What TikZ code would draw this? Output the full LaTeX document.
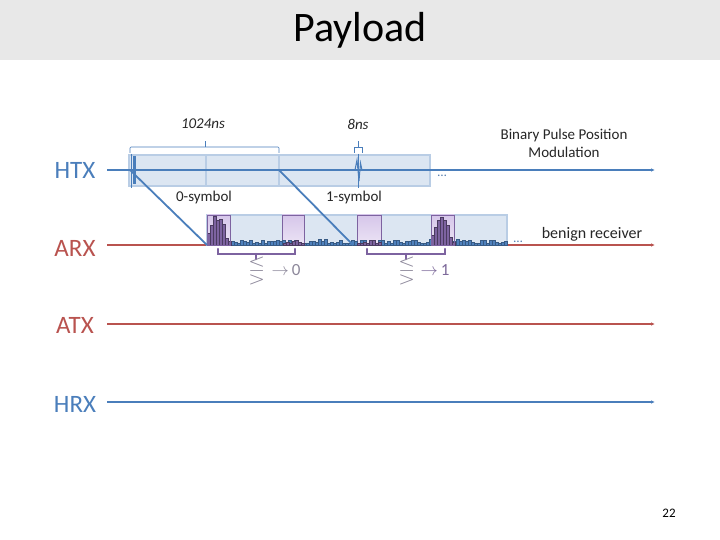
\documentclass[tikz,border=0pt]{standalone}
\usepackage{amsmath}
\usepackage{amssymb}
\usepackage{fontspec}
\setmainfont{Carlito}
\usetikzlibrary{arrows.meta}

\definecolor{laneblue}{HTML}{4A7EBB}
\definecolor{lanered}{HTML}{B9534F}
\definecolor{boxfill}{HTML}{DCE6F2}
\definecolor{boxedge}{HTML}{B9CDE5}
\definecolor{pulsepurple}{HTML}{7D63A0}
\definecolor{wintop}{HTML}{D6C6EA}
\definecolor{winbottom}{HTML}{ECE4F5}
\definecolor{titlegray}{HTML}{E8E8E8}
\definecolor{decgray}{HTML}{8C879A}
\definecolor{histblue}{HTML}{4F81BD}

\begin{document}
\begin{tikzpicture}[x=1pt, y=-1pt,
        lane/.style={line width=1.6pt, -{Latex[length=4pt,width=3.5pt]}},
        chan/.style={font=\fontsize{25}{28}\selectfont},
        lbl/.style={font=\fontsize{15}{18}\selectfont, text=black!85},
        slot/.style={fill=boxfill, draw=boxedge, line width=2.5pt},
        win/.style={top color=wintop, bottom color=winbottom, draw=pulsepurple, line width=0.8pt},
        bluebar/.style={fill=histblue, draw=histblue!70!black, line width=0.3pt},
        purplebar/.style={fill=pulsepurple, draw=pulsepurple!60!black, line width=0.4pt},
        brk/.style={draw=pulsepurple, line width=2.5pt, line cap=round},
        dec/.style={font=\fontsize{17}{20}\selectfont, text=decgray}
    ]
        \useasboundingbox[fill=white] (0,0) rectangle (720,540);

        % Title
        \fill[titlegray] (0,0) rectangle (720,60);
        \node[font=\fontsize{42}{48}\selectfont] (title) at (360,30) {Payload};

        % Channel labels
        \node[chan, text=laneblue] (htx) at (75,170) {HTX};
        \node[chan, text=lanered] (arx) at (75,248) {ARX};
        \node[chan, text=lanered] (atx) at (75,325) {ATX};
        \node[chan, text=laneblue] (hrx) at (75,404) {HRX};

        % Lane end points
        \coordinate (htxS) at (107,170);  \coordinate (htxE) at (655,170);
        \coordinate (arxS) at (107,245);  \coordinate (arxE) at (655,245);
        \coordinate (atxS) at (107,324);  \coordinate (atxE) at (655,324);
        \coordinate (hrxS) at (107,402);  \coordinate (hrxE) at (655,402);

        % HTX slots
        \draw[slot] (129,155) rectangle (430,186);
        \draw[boxedge, line width=1.5pt] (206,155) -- (206,186);
        \draw[boxedge, line width=1.5pt] (279,155) -- (279,186);
        \draw[lane, laneblue] (htxS) -- (htxE);
        \draw[laneblue, line width=0.8pt] (131,154) -- (131,188);
        \fill[laneblue] (132.5,156) rectangle (136,184);
        \draw[laneblue, line width=0.8pt] (358,154) -- (358,188);
        \draw[laneblue, line width=1pt] (355,170) -- (357,160) -- (359,181) -- (360.5,163) -- (362,170);
        \node[text=laneblue!80!gray, font=\fontsize{13}{15}\selectfont, anchor=base] (htxdots) at (442,177) {\dots};

        % Period brackets
        \draw[laneblue, line width=0.7pt, rounded corners=1pt] (130,153) -- (130,147) -- (279,147) -- (279,153);
        \draw[laneblue, line width=0.7pt] (205,147) -- (205,141);
        \draw[laneblue, line width=0.7pt] (354,153) -- (354,147) -- (362,147) -- (362,153);
        \draw[laneblue, line width=0.7pt] (358,147) -- (358,141);
        \node[lbl, font=\fontsize{15}{18}\selectfont\itshape] (period) at (203,124) {1024ns};
        \node[lbl, font=\fontsize{15}{18}\selectfont\itshape] (pulsew) at (358,124) {8ns};
        \node[lbl, align=center] (bppm) at (564,143) {Binary Pulse Position\\Modulation};
        \node[lbl] (sym0) at (204,198) {0-symbol};
        \node[lbl] (sym1) at (354,198) {1-symbol};

        % ARX lane and received slots
        \draw[lane, lanered] (arxS) -- (arxE);
        \draw[slot] (207,215) rectangle (507,245);
        \draw[win] (207,215) rectangle (230,245);
        \draw[win] (282,215) rectangle (304,245);
        \draw[win] (357,215) rectangle (381,245);
        \draw[win] (431,215) rectangle (454,245);

        % Histogram
        \pgfmathsetseed{17}
        \foreach \x in {207,210,...,504}{
            \pgfmathsetmacro\h{1.5+4*rnd}
            \draw[bluebar] (\x,245) rectangle ++(3,-\h);
        }
        \foreach \h [count=\i from 0] in {12,20,29,25,26,21,7,4}
            \draw[purplebar] (207+3*\i,245) rectangle ++(3,-\h);
        \foreach \h [count=\i from 0] in {2,3,2,4,5,3,2}
            \draw[purplebar] (283+3*\i,245) rectangle ++(3,-\h);
        \foreach \h [count=\i from 0] in {2,2,3,2,5,5,2,3}
            \draw[purplebar] (357+3*\i,245) rectangle ++(3,-\h);
        \foreach \h [count=\i from 0] in {10,18,25,28,25,20,8,3}
            \draw[purplebar] (431+3*\i,245) rectangle ++(3,-\h);
        \draw[pulsepurple, line width=0.8pt] (207,215) rectangle (230,245);
        \draw[pulsepurple, line width=0.8pt] (431,215) rectangle (454,245);
        \node[text=laneblue!80!gray, font=\fontsize{13}{15}\selectfont, anchor=base] (arxdots) at (518,242) {\dots};
        \node[font=\fontsize{16}{19}\selectfont, text=black!85] (benign) at (592,234) {benign receiver};

        % Symbol mapping
        \coordinate (sym0from) at (130,170);  \coordinate (sym0to) at (207,245);
        \coordinate (sym1from) at (279,170);  \coordinate (sym1to) at (353,245);
        \draw[laneblue, line width=1.8pt] (sym0from) -- (sym0to);
        \draw[laneblue, line width=1.8pt] (sym1from) -- (sym1to);

        % Decision brackets
        \draw[brk] (218,249) -- (218,254) -- (295,254) -- (295,249);
        \draw[brk] (256,254) -- (256,259);
        \draw[brk] (367,249) -- (367,254) -- (445,254) -- (445,249);
        \draw[brk] (406,254) -- (406,259);
        \node[dec, font=\fontsize{22}{24}\selectfont] (cmp0) at (257,271) {$\lesseqgtr$};
        \node[dec] (bit0) at (286,270) {$\rightarrow$\,0};
        \node[dec, font=\fontsize{22}{24}\selectfont] (cmp1) at (407,271) {$\lesseqgtr$};
        \node[dec, text=pulsepurple!80!gray] (bit1) at (435,270) {$\rightarrow$\,1};

        % Remaining lanes
        \draw[lane, lanered] (atxS) -- (atxE);
        \draw[lane, laneblue] (hrxS) -- (hrxE);

        % Page number
        \node[font=\fontsize{13}{15}\selectfont] (page) at (669,513) {22};
    \end{tikzpicture}
\end{document}
